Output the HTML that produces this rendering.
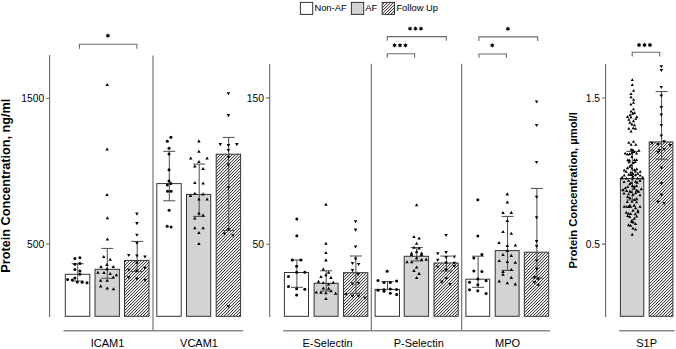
<!DOCTYPE html>
<html><head><meta charset="utf-8"><style>
html,body{margin:0;padding:0;background:#fff;}
body{width:676px;height:349px;overflow:hidden;}
svg{display:block;}
text{font-family:"Liberation Sans",sans-serif;fill:#000;}
.tk{font-size:10.3px;}
.cat{font-size:11px;}
.lg{font-size:9.4px;}
.yl{font-size:12.7px;font-weight:bold;}
.yl2{font-size:11.2px;font-weight:bold;}
.st{font-size:11px;font-weight:bold;}
</style></head><body>
<svg width="676" height="349" viewBox="0 0 676 349">
<defs>
<pattern id="hatch" patternUnits="userSpaceOnUse" x="0" y="0" width="3" height="3">
<rect width="3" height="3" fill="#fff"/>
<rect x="2" y="0" width="1" height="1" fill="#444"/>
<rect x="0" y="0" width="1" height="1" fill="#d8d8d8"/>
<rect x="1" y="1" width="1" height="1" fill="#444"/>
<rect x="2" y="1" width="1" height="1" fill="#d8d8d8"/>
<rect x="0" y="2" width="1" height="1" fill="#444"/>
<rect x="1" y="2" width="1" height="1" fill="#d8d8d8"/>
</pattern>
</defs>
<rect width="676" height="349" fill="#fff"/>
<rect x="65.3" y="274.3" width="24.5" height="42" fill="#fff" stroke="#333" stroke-width="1"/>
<rect x="95" y="269.3" width="24.4" height="47" fill="#d3d3d3" stroke="#333" stroke-width="1"/>
<rect x="124.5" y="260.4" width="24.5" height="55.9" fill="url(#hatch)" stroke="#333" stroke-width="1"/>
<rect x="156.8" y="183.6" width="24.4" height="132.7" fill="#fff" stroke="#333" stroke-width="1"/>
<rect x="186.5" y="194.4" width="24.2" height="121.9" fill="#d3d3d3" stroke="#333" stroke-width="1"/>
<rect x="216.2" y="154.2" width="24.4" height="162.1" fill="url(#hatch)" stroke="#333" stroke-width="1"/>
<rect x="284.4" y="272.5" width="24.1" height="43.8" fill="#fff" stroke="#333" stroke-width="1"/>
<rect x="314.1" y="283.3" width="24" height="33" fill="#d3d3d3" stroke="#333" stroke-width="1"/>
<rect x="343.5" y="272.7" width="24.3" height="43.6" fill="url(#hatch)" stroke="#333" stroke-width="1"/>
<rect x="375.1" y="289.4" width="24.4" height="26.9" fill="#fff" stroke="#333" stroke-width="1"/>
<rect x="404.2" y="256.3" width="24.4" height="60" fill="#d3d3d3" stroke="#333" stroke-width="1"/>
<rect x="434" y="263" width="24.2" height="53.3" fill="url(#hatch)" stroke="#333" stroke-width="1"/>
<rect x="465.9" y="279.2" width="23.8" height="37.1" fill="#fff" stroke="#333" stroke-width="1"/>
<rect x="495.2" y="250.6" width="23.9" height="65.7" fill="#d3d3d3" stroke="#333" stroke-width="1"/>
<rect x="524.3" y="252.2" width="24.4" height="64.1" fill="url(#hatch)" stroke="#333" stroke-width="1"/>
<rect x="620.4" y="178.5" width="23.4" height="137.8" fill="#d3d3d3" stroke="#333" stroke-width="1"/>
<rect x="649.2" y="141.9" width="23.7" height="174.4" fill="url(#hatch)" stroke="#333" stroke-width="1"/>
<g stroke="#6a6a6a" stroke-width="1.1" fill="none">
<path d="M49.6 55V317 M46 98.2H49.6 M46 244H49.6" />
<path d="M269.7 64V317 M266.2 97.9H269.7 M266.2 244.3H269.7" />
<path d="M605.6 64V317 M602 98H605.6 M602 244.1H605.6" />
<path d="M153 55.5V330.6 M371.3 63.8V330.6 M461.7 63.8V330.6" />
</g>
<path d="M63.5 330.75H243.1 M283.2 330.75H550 M619 330.75H674.6" stroke="#8a8a8a" stroke-width="1.4" fill="none"/>
<path d="M79.4 48.7V44.3H136.9V48.7 M387.3 40.7V36.6H446.3V40.7 M387.3 57.6V53.7H414.6V57.6 M478.9 41V36.9H537.7V41 M478.9 57.8V54H506.4V57.8 M632.2 56.6V52.3H659.7V56.6" stroke="#6a6a6a" stroke-width="1.1" fill="none"/>
<path d="M77.7 263.7V281 M71.7 263.7H83.7 M71.7 281H83.7 M107.3 248.4V278.3 M101.3 248.4H113.3 M101.3 278.3H113.3 M137.2 241.4V271.6 M131.2 241.4H143.2 M131.2 271.6H143.2 M169.3 151.3V200.8 M163.3 151.3H175.3 M163.3 200.8H175.3 M199.2 164.1V216.4 M193.2 164.1H205.2 M193.2 216.4H205.2 M228.7 137.4V230.6 M222.7 137.4H234.7 M222.7 230.6H234.7 M296.9 259.9V287.3 M290.9 259.9H302.9 M290.9 287.3H302.9 M326.2 270.8V291 M320.2 270.8H332.2 M320.2 291H332.2 M355.9 256V293.3 M349.9 256H361.9 M349.9 293.3H361.9 M387.5 281.5V289.4 M381.5 281.5H393.5 M381.5 289.4H393.5 M416.8 247.6V261 M410.8 247.6H422.8 M410.8 261H422.8 M446.4 256.1V271 M440.4 256.1H452.4 M440.4 271H452.4 M478.1 256.2V287.3 M472.1 256.2H484.1 M472.1 287.3H484.1 M507.6 216.4V270.4 M501.6 216.4H513.6 M501.6 270.4H513.6 M536.9 188.4V278 M530.9 188.4H542.9 M530.9 278H542.9 M632.3 151.4V200 M626.3 151.4H638.3 M626.3 200H638.3 M661.6 91.6V159.2 M655.6 91.6H667.6 M655.6 159.2H667.6" stroke="#4a4a4a" stroke-width="1" fill="none"/>
<g fill="#000"><circle cx="74.9" cy="258.6" r="1.5"/><circle cx="79.9" cy="257.7" r="1.5"/><circle cx="74.9" cy="264.2" r="1.5"/><circle cx="79.9" cy="263.5" r="1.5"/><circle cx="74.9" cy="269.4" r="1.5"/><circle cx="79.9" cy="270.9" r="1.5"/><circle cx="79.9" cy="274.2" r="1.5"/><circle cx="67.6" cy="279.4" r="1.5"/><circle cx="72.3" cy="280" r="1.5"/><circle cx="74.9" cy="277.9" r="1.5"/><circle cx="77.3" cy="282" r="1.5"/><circle cx="82.2" cy="282.3" r="1.5"/><circle cx="87" cy="282.7" r="1.5"/><circle cx="170.9" cy="137.2" r="1.5"/><circle cx="167.3" cy="141.2" r="1.5"/><circle cx="169" cy="148.3" r="1.5"/><circle cx="169" cy="154.1" r="1.5"/><circle cx="169" cy="169.8" r="1.5"/><circle cx="169" cy="180.9" r="1.5"/><circle cx="170.9" cy="183.4" r="1.5"/><circle cx="167.3" cy="184.9" r="1.5"/><circle cx="167.6" cy="191.2" r="1.5"/><circle cx="171.1" cy="191.2" r="1.5"/><circle cx="169.1" cy="210.2" r="1.5"/><circle cx="167.2" cy="226.3" r="1.5"/><circle cx="171.1" cy="227" r="1.5"/><circle cx="296.8" cy="218.9" r="1.5"/><circle cx="296.8" cy="235.7" r="1.5"/><circle cx="292.3" cy="259.9" r="1.5"/><circle cx="300.8" cy="259.9" r="1.5"/><circle cx="296.6" cy="266.2" r="1.5"/><circle cx="296.6" cy="272.3" r="1.5"/><circle cx="304.8" cy="272.3" r="1.5"/><circle cx="288.5" cy="276.5" r="1.5"/><circle cx="288.5" cy="286.6" r="1.5"/><circle cx="296.6" cy="288.7" r="1.5"/><circle cx="304.8" cy="289.2" r="1.5"/><circle cx="296.6" cy="295" r="1.5"/><circle cx="387.2" cy="271.2" r="1.5"/><circle cx="378" cy="280.5" r="1.5"/><circle cx="384" cy="282.6" r="1.5"/><circle cx="390.3" cy="282.6" r="1.5"/><circle cx="396.6" cy="281" r="1.5"/><circle cx="378" cy="290.2" r="1.5"/><circle cx="384" cy="289.8" r="1.5"/><circle cx="384" cy="291.3" r="1.5"/><circle cx="390.3" cy="289.1" r="1.5"/><circle cx="396.6" cy="289.4" r="1.5"/><circle cx="390.3" cy="293.3" r="1.5"/><circle cx="396.6" cy="294.5" r="1.5"/><circle cx="477.8" cy="199.8" r="1.5"/><circle cx="477.8" cy="236" r="1.5"/><circle cx="481.9" cy="254.5" r="1.5"/><circle cx="473.8" cy="258" r="1.5"/><circle cx="473.8" cy="271.1" r="1.5"/><circle cx="481.9" cy="271.6" r="1.5"/><circle cx="477.8" cy="279" r="1.5"/><circle cx="486.1" cy="280.7" r="1.5"/><circle cx="469.5" cy="282.2" r="1.5"/><circle cx="477.8" cy="284.7" r="1.5"/><circle cx="469.5" cy="289.8" r="1.5"/><circle cx="477.8" cy="290.8" r="1.5"/><circle cx="486.1" cy="293.6" r="1.5"/></g>
<path fill="#000" d="M107.2 82.96L108.95 86.02L105.45 86.02ZM107.1 147.46L108.85 150.52L105.35 150.52ZM107 193.06L108.75 196.12L105.25 196.12ZM107.4 216.26L109.15 219.32L105.65 219.32ZM107.4 237.56L109.15 240.62L105.65 240.62ZM103.8 254.96L105.55 258.02L102.05 258.02ZM110.2 257.76L111.95 260.82L108.45 260.82ZM107 262.86L108.75 265.92L105.25 265.92ZM101 265.06L102.75 268.12L99.25 268.12ZM113.3 265.06L115.05 268.12L111.55 268.12ZM107 267.26L108.75 270.32L105.25 270.32ZM97.9 270.76L99.65 273.82L96.15 273.82ZM104 271.06L105.75 274.12L102.25 274.12ZM110.2 271.96L111.95 275.02L108.45 275.02ZM116.4 273.26L118.15 276.32L114.65 276.32ZM113.3 275.56L115.05 278.62L111.55 278.62ZM100.7 278.66L102.45 281.72L98.95 281.72ZM107.2 278.66L108.95 281.72L105.45 281.72ZM100.7 284.36L102.45 287.42L98.95 287.42ZM107.2 286.46L108.95 289.52L105.45 289.52ZM113.5 287.16L115.25 290.22L111.75 290.22ZM198.9 139.36L200.65 142.42L197.15 142.42ZM198.9 149.76L200.65 152.82L197.15 152.82ZM190.7 156.56L192.45 159.62L188.95 159.62ZM207.1 156.56L208.85 159.62L205.35 159.62ZM198.9 160.06L200.65 163.12L197.15 163.12ZM194.8 164.56L196.55 167.62L193.05 167.62ZM203.1 167.06L204.85 170.12L201.35 170.12ZM194.8 180.96L196.55 184.02L193.05 184.02ZM203.1 181.46L204.85 184.52L201.35 184.52ZM194.8 191.76L196.55 194.82L193.05 194.82ZM190.5 193.86L192.25 196.92L188.75 196.92ZM203.1 192.36L204.85 195.42L201.35 195.42ZM198.9 197.56L200.65 200.62L197.15 200.62ZM207.1 197.56L208.85 200.62L205.35 200.62ZM198.9 211.46L200.65 214.52L197.15 214.52ZM203.1 213.56L204.85 216.62L201.35 216.62ZM194.8 216.56L196.55 219.62L193.05 219.62ZM194.8 226.26L196.55 229.32L193.05 229.32ZM203.1 226.26L204.85 229.32L201.35 229.32ZM198.9 230.96L200.65 234.02L197.15 234.02ZM198.9 241.96L200.65 245.02L197.15 245.02ZM325.9 202.66L327.65 205.72L324.15 205.72ZM325.9 241.76L327.65 244.82L324.15 244.82ZM325.9 251.06L327.65 254.12L324.15 254.12ZM325.9 258.36L327.65 261.42L324.15 261.42ZM323.3 267.46L325.05 270.52L321.55 270.52ZM328.6 270.76L330.35 273.82L326.85 273.82ZM325.9 273.26L327.65 276.32L324.15 276.32ZM321 275.06L322.75 278.12L319.25 278.12ZM330.9 275.86L332.65 278.92L329.15 278.92ZM318.5 279.76L320.25 282.82L316.75 282.82ZM323.3 281.06L325.05 284.12L321.55 284.12ZM333.3 280.86L335.05 283.92L331.55 283.92ZM328.6 282.56L330.35 285.62L326.85 285.62ZM323.3 286.56L325.05 289.62L321.55 289.62ZM328.6 286.76L330.35 289.82L326.85 289.82ZM331 289.16L332.75 292.22L329.25 292.22ZM316.3 290.46L318.05 293.52L314.55 293.52ZM321 290.76L322.75 293.82L319.25 293.82ZM325.9 291.16L327.65 294.22L324.15 294.22ZM335.6 291.76L337.35 294.82L333.85 294.82ZM325.9 296.96L327.65 300.02L324.15 300.02ZM416.6 203.26L418.35 206.32L414.85 206.32ZM414 234.96L415.75 238.02L412.25 238.02ZM419.1 236.46L420.85 239.52L417.35 239.52ZM416.6 241.76L418.35 244.82L414.85 244.82ZM414 245.76L415.75 248.82L412.25 248.82ZM419.1 246.56L420.85 249.62L417.35 249.62ZM416.6 249.86L418.35 252.92L414.85 252.92ZM411.5 251.56L413.25 254.62L409.75 254.62ZM411.5 252.96L413.25 256.02L409.75 256.02ZM421.6 251.56L423.35 254.62L419.85 254.62ZM421.6 252.96L423.35 256.02L419.85 256.02ZM416.6 256.16L418.35 259.22L414.85 259.22ZM421.6 257.96L423.35 261.02L419.85 261.02ZM426.2 257.66L427.95 260.72L424.45 260.72ZM407 260.16L408.75 263.22L405.25 263.22ZM411.7 260.16L413.45 263.22L409.95 263.22ZM416.6 265.56L418.35 268.62L414.85 268.62ZM414 268.86L415.75 271.92L412.25 271.92ZM419.1 271.86L420.85 274.92L417.35 274.92ZM416.6 276.06L418.35 279.12L414.85 279.12ZM507.3 192.36L509.05 195.42L505.55 195.42ZM507.3 200.56L509.05 203.62L505.55 203.62ZM503 211.06L504.75 214.12L501.25 214.12ZM511.3 210.86L513.05 213.92L509.55 213.92ZM507.3 218.86L509.05 221.92L505.55 221.92ZM503 229.96L504.75 233.02L501.25 233.02ZM511.3 231.76L513.05 234.82L509.55 234.82ZM499 241.06L500.75 244.12L497.25 244.12ZM507.3 243.86L509.05 246.92L505.55 246.92ZM515.4 243.56L517.15 246.62L513.65 246.62ZM507.3 248.86L509.05 251.92L505.55 251.92ZM503 253.06L504.75 256.12L501.25 256.12ZM511.3 253.86L513.05 256.92L509.55 256.92ZM499.2 258.96L500.95 262.02L497.45 262.02ZM507.3 259.96L509.05 263.02L505.55 263.02ZM515.3 260.76L517.05 263.82L513.55 263.82ZM511.3 268.06L513.05 271.12L509.55 271.12ZM503 269.86L504.75 272.92L501.25 272.92ZM503 272.76L504.75 275.82L501.25 275.82ZM511.3 275.86L513.05 278.92L509.55 278.92ZM499.2 279.56L500.95 282.62L497.45 282.62ZM507.3 281.26L509.05 284.32L505.55 284.32ZM515.3 282.36L517.05 285.42L513.55 285.42ZM632.3 78.13L633.9 80.93L630.7 80.93ZM632.3 83.13L633.9 85.93L630.7 85.93ZM633.6 89.03L635.2 91.83L632 91.83ZM631 92.23L632.6 95.03L629.4 95.03ZM631 95.43L632.6 98.23L629.4 98.23ZM633.6 98.03L635.2 100.83L632 100.83ZM633.5 100.93L635.1 103.73L631.9 103.73ZM630.9 102.73L632.5 105.53L629.3 105.53ZM633.5 107.43L635.1 110.23L631.9 110.23ZM631.1 109.73L632.7 112.53L629.5 112.53ZM632.7 111.83L634.3 114.63L631.1 114.63ZM634.5 111.23L636.1 114.03L632.9 114.03ZM630.1 113.33L631.7 116.13L628.5 116.13ZM627.5 115.13L629.1 117.93L625.9 117.93ZM631.1 115.63L632.7 118.43L629.5 118.43ZM636.8 115.13L638.4 117.93L635.2 117.93ZM635.8 117.03L637.4 119.83L634.2 119.83ZM628.8 118.03L630.4 120.83L627.2 120.83ZM633.5 119.33L635.1 122.13L631.9 122.13ZM629.9 120.83L631.5 123.63L628.3 123.63ZM631.9 122.63L633.5 125.43L630.3 125.43ZM634.5 123.43L636.1 126.23L632.9 126.23ZM628.8 127.03L630.4 129.83L627.2 129.83ZM633.2 126.53L634.8 129.33L631.6 129.33ZM635.5 127.03L637.1 129.83L633.9 129.83ZM631.1 129.73L632.7 132.53L629.5 132.53ZM633.5 140.03L635.1 142.83L631.9 142.83ZM628.8 141.03L630.4 143.83L627.2 143.83ZM631.1 143.03L632.7 145.83L629.5 145.83ZM635.8 143.03L637.4 145.83L634.2 145.83ZM631.1 148.03L632.7 150.83L629.5 150.83ZM632.9 148.33L634.5 151.13L631.3 151.13ZM638.9 149.03L640.5 151.83L637.3 151.83ZM634.2 150.13L635.8 152.93L632.6 152.93ZM625.2 151.63L626.8 154.43L623.6 154.43ZM627.5 152.63L629.1 155.43L625.9 155.43ZM629.6 152.43L631.2 155.23L628 155.23ZM631.9 151.33L633.5 154.13L630.3 154.13ZM636.6 151.63L638.2 154.43L635 154.43ZM631.9 155.23L633.5 158.03L630.3 158.03ZM627.8 158.33L629.4 161.13L626.2 161.13ZM629.6 158.63L631.2 161.43L628 161.43ZM634.5 158.13L636.1 160.93L632.9 160.93ZM636.6 158.13L638.2 160.93L635 160.93ZM629.1 160.43L630.7 163.23L627.5 163.23ZM635.3 160.13L636.9 162.93L633.7 162.93ZM633.2 161.23L634.8 164.03L631.6 164.03ZM631.1 163.53L632.7 166.33L629.5 166.33ZM629.9 164.83L631.5 167.63L628.3 167.63ZM627.5 166.33L629.1 169.13L625.9 169.13ZM631.9 166.63L633.5 169.43L630.3 169.43ZM636.8 167.43L638.4 170.23L635.2 170.23ZM624.2 168.73L625.8 171.53L622.6 171.53ZM634.5 168.23L636.1 171.03L632.9 171.03ZM626.2 170.03L627.8 172.83L624.6 172.83ZM635.5 169.73L637.1 172.53L633.9 172.53ZM640.2 170.03L641.8 172.83L638.6 172.83ZM630.9 170.73L632.5 173.53L629.3 173.53ZM632.9 171.83L634.5 174.63L631.3 174.63ZM637.8 171.83L639.4 174.63L636.2 174.63ZM628.8 172.83L630.4 175.63L627.2 175.63ZM624.2 173.63L625.8 176.43L622.6 176.43ZM630.9 173.13L632.5 175.93L629.3 175.93ZM635.5 173.33L637.1 176.13L633.9 176.13ZM640.2 173.63L641.8 176.43L638.6 176.43ZM632.9 174.63L634.5 177.43L631.3 177.43ZM622.1 175.63L623.7 178.43L620.5 178.43ZM642.7 175.63L644.3 178.43L641.1 178.43ZM621.7 176.73L623.3 179.53L620.1 179.53ZM626.3 176.73L627.9 179.53L624.7 179.53ZM632.5 176.73L634.1 179.53L630.9 179.53ZM637.6 176.73L639.2 179.53L636 179.53ZM642.3 176.73L643.9 179.53L640.7 179.53ZM628.6 179.03L630.2 181.83L627 181.83ZM624 180.13L625.6 182.93L622.4 182.93ZM635.6 179.83L637.2 182.63L634 182.63ZM640 178.83L641.6 181.63L638.4 181.63ZM631 181.13L632.6 183.93L629.4 183.93ZM637.1 180.83L638.7 183.63L635.5 183.63ZM629.7 182.43L631.3 185.23L628.1 185.23ZM632.5 184.23L634.1 187.03L630.9 187.03ZM636.6 184.23L638.2 187.03L635 187.03ZM627.6 185.23L629.2 188.03L626 188.03ZM634.3 185.03L635.9 187.83L632.7 187.83ZM625.3 186.53L626.9 189.33L623.7 189.33ZM622.7 188.13L624.3 190.93L621.1 190.93ZM634.3 187.03L635.9 189.83L632.7 189.83ZM641.3 187.33L642.9 190.13L639.7 190.13ZM626.6 189.13L628.2 191.93L625 191.93ZM629.9 189.63L631.5 192.43L628.3 192.43ZM636.6 188.83L638.2 191.63L635 191.63ZM638.7 189.93L640.3 192.73L637.1 192.73ZM623.2 188.43L624.8 191.23L621.6 191.23ZM631 190.23L632.6 193.03L629.4 193.03ZM637.6 189.63L639.2 192.43L636 192.43ZM624 191.73L625.6 194.53L622.4 194.53ZM628.6 192.53L630.2 195.33L627 195.33ZM633 193.03L634.6 195.83L631.4 195.83ZM635.6 191.53L637.2 194.33L634 194.33ZM640 193.53L641.6 196.33L638.4 196.33ZM627.6 195.13L629.2 197.93L626 197.93ZM629.9 196.33L631.5 199.13L628.3 199.13ZM636.6 196.93L638.2 199.73L635 199.73ZM634.3 198.13L635.9 200.93L632.7 200.93ZM627.3 200.23L628.9 203.03L625.7 203.03ZM632 200.03L633.6 202.83L630.4 202.83ZM636.6 200.53L638.2 203.33L635 203.33ZM629.9 203.63L631.5 206.43L628.3 206.43ZM634.3 203.83L635.9 206.63L632.7 206.63ZM624.2 204.93L625.8 207.73L622.6 207.73ZM626.6 204.93L628.2 207.73L625 207.73ZM640 204.93L641.6 207.73L638.4 207.73ZM628.6 205.23L630.2 208.03L627 208.03ZM630.7 204.93L632.3 207.73L629.1 207.73ZM634 203.93L635.6 206.73L632.4 206.73ZM635.6 206.53L637.2 209.33L634 209.33ZM633 208.83L634.6 211.63L631.4 211.63ZM637.9 209.03L639.5 211.83L636.3 211.83ZM637.9 210.33L639.5 213.13L636.3 213.13ZM626.3 210.83L627.9 213.63L624.7 213.63ZM628.6 211.93L630.2 214.73L627 214.73ZM630.7 212.13L632.3 214.93L629.1 214.93ZM635.3 212.43L636.9 215.23L633.7 215.23ZM627.6 214.23L629.2 217.03L626 217.03ZM636.6 214.73L638.2 217.53L635 217.53ZM629.7 215.23L631.3 218.03L628.1 218.03ZM634.3 216.83L635.9 219.63L632.7 219.63ZM632 218.63L633.6 221.43L630.4 221.43ZM631.5 220.13L633.1 222.93L629.9 222.93ZM633.3 220.73L634.9 223.53L631.7 223.53ZM635.6 222.23L637.2 225.03L634 225.03ZM628.6 223.33L630.2 226.13L627 226.13ZM630.7 224.03L632.3 226.83L629.1 226.83ZM633 226.63L634.6 229.43L631.4 229.43ZM635.6 227.63L637.2 230.43L634 230.43ZM632.2 232.83L633.8 235.63L630.6 235.63Z"/>
<path fill="#000" d="M136.9 215.64L138.65 212.58L135.15 212.58ZM136.9 225.14L138.65 222.08L135.15 222.08ZM136.9 236.84L138.65 233.78L135.15 233.78ZM136.9 244.84L138.65 241.78L135.15 241.78ZM128.8 257.04L130.55 253.98L127.05 253.98ZM136.9 257.54L138.65 254.48L135.15 254.48ZM145 258.54L146.75 255.48L143.25 255.48ZM136.8 264.44L138.55 261.38L135.05 261.38ZM144.9 269.74L146.65 266.68L143.15 266.68ZM128.8 271.74L130.55 268.68L127.05 268.68ZM136.8 272.74L138.55 269.68L135.05 269.68ZM128.6 279.04L130.35 275.98L126.85 275.98ZM136.8 280.54L138.55 277.48L135.05 277.48ZM145.1 281.94L146.85 278.88L143.35 278.88ZM228.4 95.34L230.15 92.28L226.65 92.28ZM228.4 117.14L230.15 114.08L226.65 114.08ZM220.3 146.14L222.05 143.08L218.55 143.08ZM236.8 146.14L238.55 143.08L235.05 143.08ZM228.4 147.14L230.15 144.08L226.65 144.08ZM228.4 151.94L230.15 148.88L226.65 148.88ZM228.4 158.84L230.15 155.78L226.65 155.78ZM228.4 166.54L230.15 163.48L226.65 163.48ZM228.4 189.24L230.15 186.18L226.65 186.18ZM228.4 230.94L230.15 227.88L226.65 227.88ZM224.5 235.64L226.25 232.58L222.75 232.58ZM232.9 237.34L234.65 234.28L231.15 234.28ZM228.4 308.04L230.15 304.98L226.65 304.98ZM355.6 223.34L357.35 220.28L353.85 220.28ZM355.6 231.64L357.35 228.58L353.85 228.58ZM355.6 248.54L357.35 245.48L353.85 245.48ZM355.6 260.64L357.35 257.58L353.85 257.58ZM352.5 264.94L354.25 261.88L350.75 261.88ZM358.6 265.94L360.35 262.88L356.85 262.88ZM352.5 272.14L354.25 269.08L350.75 269.08ZM358.3 276.04L360.05 272.98L356.55 272.98ZM352.5 285.54L354.25 282.48L350.75 282.48ZM358.6 285.04L360.35 281.98L356.85 281.98ZM346 296.04L347.75 292.98L344.25 292.98ZM352.5 297.74L354.25 294.68L350.75 294.68ZM358.6 297.74L360.35 294.68L356.85 294.68ZM364.9 299.74L366.65 296.68L363.15 296.68ZM446.1 237.04L447.85 233.98L444.35 233.98ZM437.8 255.34L439.55 252.28L436.05 252.28ZM446.1 254.14L447.85 251.08L444.35 251.08ZM446.1 258.94L447.85 255.88L444.35 255.88ZM454.3 258.44L456.05 255.38L452.55 255.38ZM437.8 261.74L439.55 258.68L436.05 258.68ZM446.1 264.54L447.85 261.48L444.35 261.48ZM454.3 264.84L456.05 261.78L452.55 261.78ZM437.8 268.84L439.55 265.78L436.05 265.78ZM454.3 268.04L456.05 264.98L452.55 264.98ZM446.1 271.54L447.85 268.48L444.35 268.48ZM446.1 279.94L447.85 276.88L444.35 276.88ZM441.8 283.64L443.55 280.58L440.05 280.58ZM450.1 286.14L451.85 283.08L448.35 283.08ZM536.6 103.54L538.35 100.48L534.85 100.48ZM536.6 127.04L538.35 123.98L534.85 123.98ZM536.6 164.04L538.35 160.98L534.85 160.98ZM536.6 198.84L538.35 195.78L534.85 195.78ZM536.6 219.34L538.35 216.28L534.85 216.28ZM536.6 243.14L538.35 240.08L534.85 240.08ZM536.6 247.94L538.35 244.88L534.85 244.88ZM536.6 262.54L538.35 259.48L534.85 259.48ZM536.6 270.64L538.35 267.58L534.85 267.58ZM534.5 279.04L536.25 275.98L532.75 275.98ZM538.1 280.84L539.85 277.78L536.35 277.78ZM534.5 284.04L536.25 280.98L532.75 280.98ZM538.1 286.84L539.85 283.78L536.35 283.78ZM661.3 68.24L663.05 65.18L659.55 65.18ZM661.3 72.04L663.05 68.98L659.55 68.98ZM661.3 88.94L663.05 85.88L659.55 85.88ZM661.3 97.54L663.05 94.48L659.55 94.48ZM661.3 109.14L663.05 106.08L659.55 106.08ZM661.3 116.64L663.05 113.58L659.55 113.58ZM661.3 127.04L663.05 123.98L659.55 123.98ZM661.3 137.54L663.05 134.48L659.55 134.48ZM664.1 143.24L665.85 140.18L662.35 140.18ZM652 145.04L653.75 141.98L650.25 141.98ZM658 146.04L659.75 142.98L656.25 142.98ZM670.3 147.04L672.05 143.98L668.55 143.98ZM664.1 151.04L665.85 147.98L662.35 147.98ZM659.5 152.14L661.25 149.08L657.75 149.08ZM658 154.04L659.75 150.98L656.25 150.98ZM661.3 169.54L663.05 166.48L659.55 166.48ZM661.3 184.94L663.05 181.88L659.55 181.88ZM661.3 196.64L663.05 193.58L659.55 193.58ZM658 203.54L659.75 200.48L656.25 200.48ZM664.1 205.04L665.85 201.98L662.35 201.98Z"/>
<path fill="#000" d="M107.9 33.25L108.58 34.53L110.02 34.48L109.25 35.7L110.02 36.93L108.58 36.87L107.9 38.15L107.23 36.87L105.78 36.93L106.55 35.7L105.78 34.48L107.23 34.53ZM410.05 26.15L410.73 27.43L412.17 27.38L411.4 28.6L412.17 29.83L410.73 29.77L410.05 31.05L409.38 29.77L407.93 29.83L408.7 28.6L407.93 27.38L409.38 27.43ZM415.5 26.15L416.18 27.43L417.62 27.38L416.85 28.6L417.62 29.83L416.18 29.77L415.5 31.05L414.82 29.77L413.38 29.83L414.15 28.6L413.38 27.38L414.82 27.43ZM420.95 26.15L421.62 27.43L423.07 27.38L422.3 28.6L423.07 29.83L421.62 29.77L420.95 31.05L420.27 29.77L418.83 29.83L419.6 28.6L418.83 27.38L420.27 27.43ZM394.55 42.85L395.23 44.13L396.67 44.07L395.9 45.3L396.67 46.52L395.23 46.47L394.55 47.75L393.88 46.47L392.43 46.52L393.2 45.3L392.43 44.07L393.88 44.13ZM400 42.85L400.68 44.13L402.12 44.07L401.35 45.3L402.12 46.52L400.68 46.47L400 47.75L399.32 46.47L397.88 46.52L398.65 45.3L397.88 44.07L399.32 44.13ZM405.45 42.85L406.12 44.13L407.57 44.07L406.8 45.3L407.57 46.52L406.12 46.47L405.45 47.75L404.77 46.47L403.33 46.52L404.1 45.3L403.33 44.07L404.77 44.13ZM507.9 26.35L508.57 27.63L510.02 27.57L509.25 28.8L510.02 30.02L508.57 29.97L507.9 31.25L507.22 29.97L505.78 30.03L506.55 28.8L505.78 27.58L507.22 27.63ZM492.2 42.85L492.88 44.13L494.32 44.07L493.55 45.3L494.32 46.52L492.88 46.47L492.2 47.75L491.52 46.47L490.08 46.52L490.85 45.3L490.08 44.07L491.52 44.13ZM639.05 42.55L639.72 43.83L641.17 43.77L640.4 45L641.17 46.23L639.72 46.17L639.05 47.45L638.38 46.17L636.93 46.23L637.7 45L636.93 43.77L638.38 43.83ZM644.5 42.55L645.17 43.83L646.62 43.77L645.85 45L646.62 46.23L645.17 46.17L644.5 47.45L643.83 46.17L642.38 46.23L643.15 45L642.38 43.77L643.83 43.83ZM649.95 42.55L650.62 43.83L652.07 43.77L651.3 45L652.07 46.23L650.62 46.17L649.95 47.45L649.28 46.17L647.83 46.23L648.6 45L647.83 43.77L649.28 43.83Z"/>
<text x="44.2" y="101.8" text-anchor="end" class="tk">1500</text>
<text x="44.2" y="247.6" text-anchor="end" class="tk">500</text>
<text x="264" y="101.5" text-anchor="end" class="tk">150</text>
<text x="264" y="247.9" text-anchor="end" class="tk">50</text>
<text x="600" y="101.6" text-anchor="end" class="tk">1.5</text>
<text x="600" y="247.7" text-anchor="end" class="tk">0.5</text>
<text x="107.6" y="347.4" text-anchor="middle" class="cat">ICAM1</text>
<text x="199" y="347.4" text-anchor="middle" class="cat">VCAM1</text>
<text x="327.5" y="347.4" text-anchor="middle" class="cat">E-Selectin</text>
<text x="418.7" y="347.4" text-anchor="middle" class="cat">P-Selectin</text>
<text x="507.5" y="347.4" text-anchor="middle" class="cat">MPO</text>
<text x="646.6" y="347.4" text-anchor="middle" class="cat">S1P</text>
<text transform="translate(10,185.7) rotate(-90)" text-anchor="middle" class="yl">Protein Concentration, ng/ml</text>
<text transform="translate(576.9,190.3) rotate(-90)" text-anchor="middle" class="yl2">Protein Concentration, µmol/l</text>
<rect x="300.4" y="2.4" width="12.3" height="12" fill="#fff" stroke="#333"/>
<rect x="351.4" y="2.4" width="12.3" height="12" fill="#d3d3d3" stroke="#333"/>
<rect x="382.2" y="2.4" width="12.3" height="12" fill="url(#hatch)" stroke="#333"/>
<text x="314.4" y="11.2" class="lg">Non-AF</text>
<text x="365.3" y="11.2" class="lg">AF</text>
<text x="396.4" y="11.2" class="lg">Follow Up</text>
</svg>
</body></html>
